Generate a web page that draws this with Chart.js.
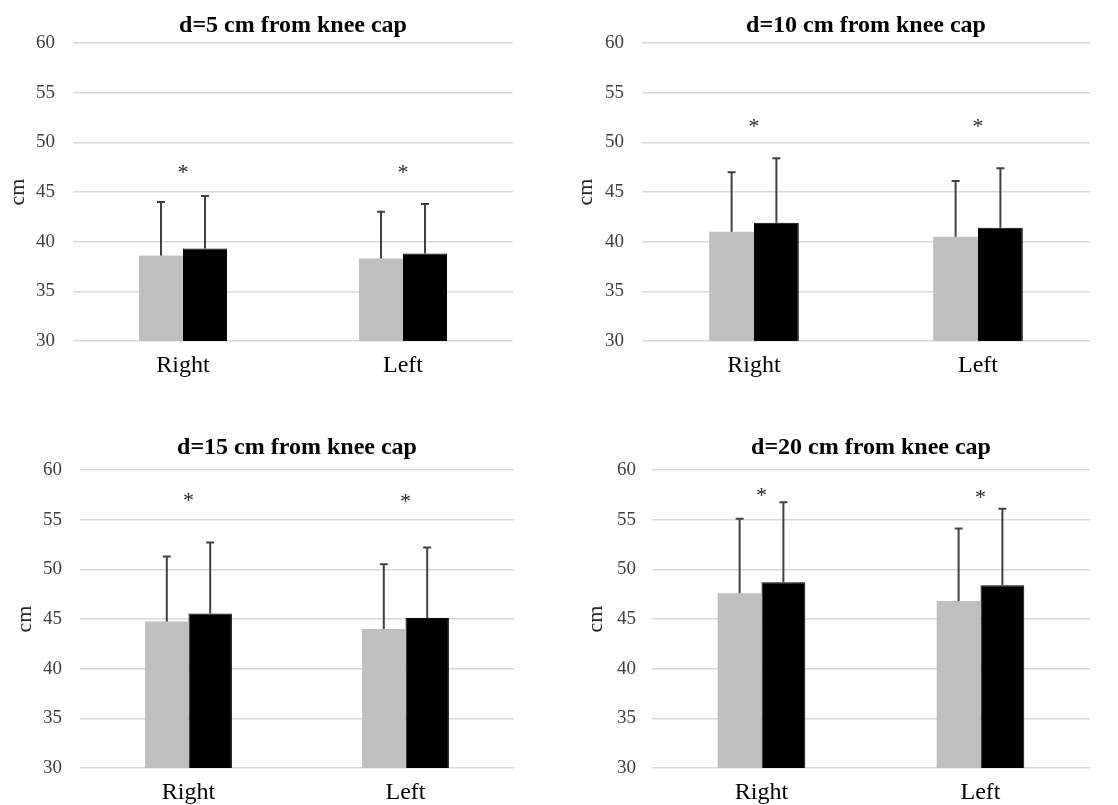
<!DOCTYPE html>
<html>
<head>
<meta charset="utf-8">
<script src="https://cdn.jsdelivr.net/npm/chart.js@4.4.0/dist/chart.umd.min.js"></script>
<style>
  body { margin: 0; background: #fff; width: 1118px; height: 805px; overflow: hidden; position: relative; }
  canvas { position: absolute; }
</style>
</head>
<body>
<canvas id="c5" width="559" height="402" style="left:0;top:0"></canvas>
<canvas id="c10" width="559" height="402" style="left:559px;top:0"></canvas>
<canvas id="c15" width="559" height="403" style="left:0;top:402px"></canvas>
<canvas id="c20" width="559" height="403" style="left:559px;top:402px"></canvas>
<script>
// Categories and ticks
var categories = ['Right', 'Left'];
var yTicks = [30, 35, 40, 45, 50, 55, 60];

// d=5 cm
var grayMean5 = [38.6, 38.3];
var graySd5 = [5.4, 4.7];
var blackMean5 = [39.3, 38.8];
var blackSd5 = [5.3, 5.0];
var star5 = [47.4, 47.4];

// d=10 cm
var grayMean10 = [41.0, 40.5];
var graySd10 = [6.0, 5.6];
var blackMean10 = [41.9, 41.4];
var blackSd10 = [6.5, 6.0];
var star10 = [52.0, 52.0];

// d=15 cm
var grayMean15 = [44.75, 44.0];
var graySd15 = [6.55, 6.5];
var blackMean15 = [45.55, 45.1];
var blackSd15 = [7.15, 7.1];
var star15 = [57.4, 57.25];

// d=20 cm
var grayMean20 = [47.6, 46.8];
var graySd20 = [7.5, 7.3];
var blackMean20 = [48.7, 48.4];
var blackSd20 = [8.05, 7.7];
var star20 = [57.9, 57.7];

var serif = "'Liberation Serif', 'Times New Roman', serif";

// error bars (upper only) + asterisks + title over the plot
var extras = {
  id: 'extras',
  afterDatasetsDraw: function(chart) {
    var ctx = chart.ctx;
    var ys = chart.scales.y, xs = chart.scales.x;
    var o = chart.options.plugins.extras;
    ctx.save();
    ctx.strokeStyle = '#404040';
    ctx.lineWidth = 2;
    chart.data.datasets.forEach(function(ds, i) {
      var meta = chart.getDatasetMeta(i);
      meta.data.forEach(function(bar, j) {
        var top = ys.getPixelForValue(ds.data[j] + ds.sd[j]);
        ctx.beginPath();
        ctx.moveTo(bar.x, bar.y);
        ctx.lineTo(bar.x, top);
        ctx.moveTo(bar.x - 4, top);
        ctx.lineTo(bar.x + 4, top);
        ctx.stroke();
      });
    });
    ctx.fillStyle = '#262626';
    ctx.font = '22px ' + serif;
    ctx.textAlign = 'center';
    ctx.textBaseline = 'alphabetic';
    o.stars.forEach(function(v, j) {
      ctx.fillText('*', xs.getPixelForValue(j), ys.getPixelForValue(v) + 11);
    });
    var a = chart.chartArea;
    ctx.fillStyle = '#000';
    ctx.font = 'bold 24px ' + serif;
    ctx.fillText(o.title, (a.left + a.right) / 2, o.titleY);
    ctx.restore();
  }
};

function makePanel(id, title, gMean, gSd, bMean, bSd, stars, lay) {
  var ctx = document.getElementById(id).getContext('2d');
  return new Chart(ctx, {
    type: 'bar',
    data: {
      labels: categories,
      datasets: [
        { data: gMean, sd: gSd, backgroundColor: '#bfbfbf', borderWidth: 0 },
        { data: bMean, sd: bSd, backgroundColor: '#000000', borderColor: '#000000', borderWidth: 1 }
      ]
    },
    options: {
      responsive: false,
      animation: false,
      layout: { padding: { left: 0, right: lay.right, top: lay.top, bottom: 0 } },
      categoryPercentage: 0.4,
      barPercentage: 1.0,
      plugins: {
        legend: { display: false },
        tooltip: { enabled: false },
        extras: { stars: stars, title: title, titleY: lay.titleY }
      },
      scales: {
        x: {
          grid: { display: false, drawTicks: false },
          border: { display: false },
          ticks: { color: '#000', font: { family: serif, size: 24 }, padding: 10 },
          afterFit: function(s) { s.height = lay.xh; }
        },
        y: {
          min: 30, max: 60,
          afterBuildTicks: function(s) { s.ticks = yTicks.map(function(v) { return { value: v }; }); },
          grid: { color: '#d9d9d9', lineWidth: 1.5, drawTicks: false },
          border: { display: false },
          ticks: { color: '#404040', font: { family: serif, size: 19 }, padding: lay.tickPad },
          title: { display: true, text: 'cm', color: '#262626', font: { family: serif, size: 22 }, padding: { top: lay.titlePad, bottom: 0 } },
          afterFit: function(s) { s.width = lay.yw; }
        }
      }
    },
    plugins: [extras]
  });
}

makePanel('c5', 'd=5 cm from knee cap', grayMean5, graySd5, blackMean5, blackSd5, star5,
  { right: 46, top: 43, xh: 61, yw: 73, tickPad: 18, titlePad: 5, titleY: 32 });
makePanel('c10', 'd=10 cm from knee cap', grayMean10, graySd10, blackMean10, blackSd10, star10,
  { right: 28, top: 43, xh: 61, yw: 83, tickPad: 18, titlePad: 14, titleY: 32 });
makePanel('c15', 'd=15 cm from knee cap', grayMean15, graySd15, blackMean15, blackSd15, star15,
  { right: 45, top: 68, xh: 37, yw: 80, tickPad: 18, titlePad: 12, titleY: 52 });
makePanel('c20', 'd=20 cm from knee cap', grayMean20, graySd20, blackMean20, blackSd20, star20,
  { right: 28, top: 68, xh: 37, yw: 93, tickPad: 16, titlePad: 24, titleY: 52 });
</script>
</body>
</html>
